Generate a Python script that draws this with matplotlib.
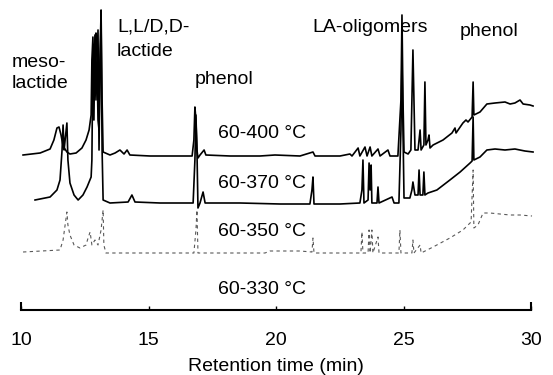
import numpy as np
import matplotlib.pyplot as plt

# chromatogram traces, retention time (min) and signal above own baseline (a.u.)
t_400 = [10.08, 10.75, 11.14, 11.29, 11.41, 11.49, 11.57, 11.65, 11.80, 11.92, 12.16, 12.39, 12.55, 12.67,
         12.75, 12.78, 12.82, 12.86, 12.90, 12.94, 12.98, 13.02, 13.06, 13.10, 13.14, 13.18, 13.22, 13.49,
         13.69, 13.88, 14.04, 14.16, 14.27, 15.06, 16.24, 16.71, 16.78, 16.82, 16.86, 16.90, 16.94, 17.02,
         17.18, 17.25, 18.20, 19.37, 19.96, 20.94, 21.45, 21.53, 22.51, 22.90, 22.98, 23.22, 23.29, 23.49,
         23.57, 23.69, 23.76, 24.00, 24.08, 24.39, 24.47, 24.78, 24.90, 24.94, 24.98, 25.02, 25.18, 25.29,
         25.37, 25.45, 25.57, 25.65, 25.69, 25.80, 25.84, 25.88, 25.96, 26.00, 26.04, 26.16, 26.55, 26.90,
         27.02, 27.06, 27.33, 27.45, 27.53, 27.69, 27.73, 27.76, 28.00, 28.27, 28.59, 28.98, 29.18, 29.37,
         29.57, 29.69, 29.96, 30.08]
s_400 = [0, 2, 6, 15, 27, 28, 20, 9, 3, 1, 2, 7, 15, 25,
         40, 95, 118, 85, 115, 122, 95, 35, 25, 95, 145, 55, 3, 0,
         2, 5, 1, 5, 0, -1, -1, -1, 15, 48, 35, 5, -3, 0,
         5, 0, -1, -1, 0, -1, 3, -1, -1, 1, -1, 7, -1, 8,
         -1, 8, -1, 6, -1, 5, -1, -1, 55, 140, 55, 3, 1, 5,
         105, 5, 5, 25, 5, 10, 73, 10, 15, 20, 7, 10, 15, 22,
         27, 22, 32, 35, 33, 38, 73, 40, 43, 51, 52, 53, 51, 52,
         55, 51, 50, 49]

t_370 = [10.55, 11.14, 11.41, 11.53, 11.61, 11.65, 11.69, 11.73, 11.80, 11.84, 11.92, 12.08, 12.24, 12.43,
         12.59, 12.75, 12.78, 12.82, 12.86, 12.90, 12.94, 13.02, 13.06, 13.10, 13.14, 13.18, 13.22, 13.49,
         14.20, 14.35, 14.47, 15.45, 16.75, 16.82, 16.86, 16.90, 16.94, 17.02, 17.14, 17.22, 18.59, 20.16,
         21.33, 21.41, 21.45, 21.49, 22.51, 23.29, 23.37, 23.41, 23.45, 23.61, 23.65, 23.69, 23.73, 23.76,
         23.96, 24.00, 24.04, 24.55, 24.63, 24.82, 24.90, 24.94, 24.98, 25.02, 25.25, 25.33, 25.37, 25.45,
         25.57, 25.61, 25.65, 25.76, 25.80, 25.84, 25.96, 26.31, 26.82, 27.22, 27.61, 27.69, 27.73, 27.76,
         28.00, 28.27, 28.59, 28.98, 29.37, 29.76, 30.08]
s_370 = [3, 6, 13, 23, 53, 78, 53, 63, 80, 43, 20, 8, 3, 8,
         16, 26, 43, 153, 83, 168, 103, 173, 53, 143, 183, 53, 3, 0,
         1, 8, 1, 0, 0, 43, 88, 53, -5, 0, 11, 0, 0, -1,
         -1, 13, 26, -1, -1, 0, 13, 43, 0, 3, 40, 13, 38, 0,
         0, 16, 0, 6, 0, 0, 73, 143, 73, 5, 5, 13, 21, 8,
         8, 33, 8, 8, 31, 8, 10, 13, 23, 31, 40, 42, 86, 43,
         46, 53, 54, 53, 54, 52, 51]

t_350 = [10.08, 11.53, 11.65, 11.73, 11.80, 11.84, 11.92, 12.08, 12.31, 12.55, 12.63, 12.71, 12.78, 12.90,
         13.02, 13.14, 13.22, 13.25, 13.33, 15.06, 16.78, 16.86, 16.90, 16.94, 18.20, 19.57, 19.76, 20.94,
         21.41, 21.45, 21.49, 22.51, 23.33, 23.37, 23.41, 23.61, 23.65, 23.69, 23.76, 23.80, 24.00, 24.04,
         24.82, 24.86, 24.90, 25.33, 25.37, 25.41, 25.65, 25.69, 26.16, 26.82, 27.33, 27.65, 27.73, 27.76,
         27.92, 28.12, 28.39, 28.78, 29.18, 29.57, 30.04]
s_350 = [1, 3, 13, 28, 41, 28, 18, 8, 5, 8, 15, 21, 8, 13,
         8, 23, 43, 8, 0, 0, 0, 23, 43, 0, 0, 0, 2, 2,
         1, 15, 0, 0, 0, 21, 0, 0, 23, 0, 23, 0, 16, 0,
         0, 23, 0, 0, 13, 0, 8, 0, 6, 15, 23, 31, 83, 25,
         28, 40, 40, 39, 38, 38, 37]

trace_labels = ["60-400 °C", "60-370 °C", "60-350 °C", "60-330 °C"]
baselines = [155, 107, 57, 0]
label_y = [177, 127, 78, 20]

peak_names = ["meso-\nlactide", "L,L/D,D-\nlactide", "phenol", "LA-oligomers", "phenol"]
peak_x = [9.65, 13.76, 16.82, 21.41, 27.22]
peak_y = [237, 271, 231, 282, 279]
peak_spacing = [1.3, 1.55, 1.2, 1.2, 1.2]

ticks = [10, 15, 20, 25, 30]

plt.rcParams['font.family'] = ['Liberation Sans', 'DejaVu Sans']

fig = plt.figure(figsize=(5.53, 3.75), dpi=100)
ax = fig.add_axes([21 / 553, 65 / 375, 510 / 553, 310 / 375])

ax.plot(t_400, np.array(s_400) + baselines[0], color="black", lw=1.2, clip_on=False)
ax.plot(t_370, np.array(s_370) + baselines[1], color="black", lw=1.2, clip_on=False)
ax.plot(t_350, np.array(s_350) + baselines[2], color="0.35", lw=0.8, ls=(0, (3, 3)), clip_on=False)

for lab, y in zip(trace_labels, label_y):
  ax.text(17.73, y, lab, fontsize=14, va="center", ha="left")

for name, x, y, sp in zip(peak_names, peak_x, peak_y, peak_spacing):
  ax.text(x, y, name, fontsize=14, va="center", ha="left", linespacing=sp)

ax.set_xlim(10, 30)
ax.set_ylim(0, 310)
for s in ["top", "left", "right"]:
  ax.spines[s].set_visible(False)
ax.spines["bottom"].set_linewidth(1.5)
ax.set_yticks([])
ax.set_xticks(ticks)
ax.tick_params(axis="x", direction="in", length=3, width=1, labelsize=14, pad=16)
ax.vlines(ax.get_xlim(), 0, 8, color="black", lw=1.5, clip_on=False)
ax.set_xlabel("Retention time (min)", fontsize=14, labelpad=6)

fig.savefig("out.png", dpi=100, facecolor="white")
